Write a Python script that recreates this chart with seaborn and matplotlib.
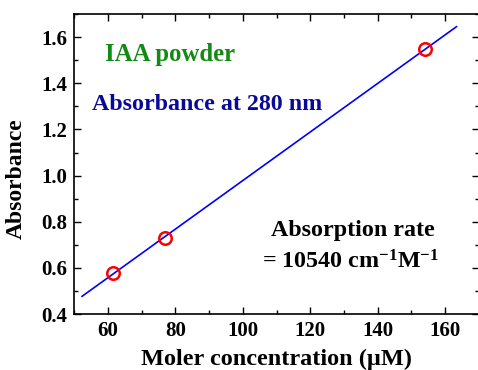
import matplotlib
matplotlib.use("Agg")
import matplotlib.pyplot as plt
import numpy as np
import pandas as pd
import seaborn as sns
from matplotlib.ticker import MultipleLocator, FormatStrFormatter

# measured points
conc_uM = [61.5, 77.0, 154.0]
absorbance = [0.578, 0.731, 1.548]
# range of the drawn fit line
fit_x_range = [52.3, 163.4]

sns.set_style("ticks")
plt.rcParams["font.family"] = ["Liberation Serif", "DejaVu Serif"]
plt.rcParams["font.weight"] = "bold"
plt.rcParams["mathtext.fontset"] = "custom"
plt.rcParams["mathtext.rm"] = "Liberation Serif:bold"
plt.rcParams["mathtext.bf"] = "Liberation Serif:bold"
plt.rcParams["mathtext.it"] = "Liberation Serif:bold"
for key in ["text.color", "axes.labelcolor", "xtick.color", "ytick.color", "axes.edgecolor"]:
    plt.rcParams[key] = "black"

df = pd.DataFrame({"conc": conc_uM, "abs": absorbance})
slope, intercept = np.polyfit(df["conc"], df["abs"], 1)
fit = pd.DataFrame({"conc": fit_x_range})
fit["abs"] = slope * fit["conc"] + intercept

fig = plt.figure(figsize=(4.78, 3.70), dpi=100)
ax = fig.add_axes([0.155, 0.151, 0.847, 0.811])

sns.lineplot(data=fit, x="conc", y="abs", color="#0000ff", lw=1.2, ax=ax)
ax.plot(df["conc"], df["abs"], "o", ms=9, mfc="none", mec="#ff0000", mew=1.8)

ax.set_xlim(50, 170)
ax.set_ylim(0.4, 1.7)
ax.xaxis.set_major_locator(MultipleLocator(20))
ax.xaxis.set_minor_locator(MultipleLocator(10))
ax.yaxis.set_major_locator(MultipleLocator(0.2))
ax.yaxis.set_minor_locator(MultipleLocator(0.1))
ax.yaxis.set_major_formatter(FormatStrFormatter("%.1f"))
ax.tick_params(which="both", direction="in", top=True, right=True, width=1.0)
ax.tick_params(which="major", length=5, labelsize=15, pad=5)
ax.tick_params(which="minor", length=3)
for lab in ax.get_xticklabels() + ax.get_yticklabels():
    lab.set_fontweight("bold")
for sp in ax.spines.values():
    sp.set_linewidth(1.2)
    sp.set_visible(True)

ax.set_xlabel("Moler concentration (\u00b5M)", fontsize=17.5, fontweight="bold")
ax.set_ylabel("Absorbance", fontsize=17, fontweight="bold")
ax.xaxis.set_label_coords(0.5, -0.115)
ax.yaxis.set_label_coords(-0.118, 0.453)

ax.text(78.3, 1.523, "IAA powder", color="#138a13", fontsize=17.8,
        fontweight="bold", ha="center", va="center")
ax.text(89.4, 1.31, "Absorbance at 280 nm", color="#0a0a9a", fontsize=17.3,
        fontweight="bold", ha="center", va="center")
ax.text(132.5, 0.764, "Absorption rate", color="black", fontsize=17.3,
        fontweight="bold", ha="center", va="center")
ax.text(132.0, 0.625, r"= 10540 cm$^{-1}$M$^{-1}$", color="black", fontsize=17.3,
        fontweight="bold", ha="center", va="center")

fig.savefig("out.png", dpi=100)
